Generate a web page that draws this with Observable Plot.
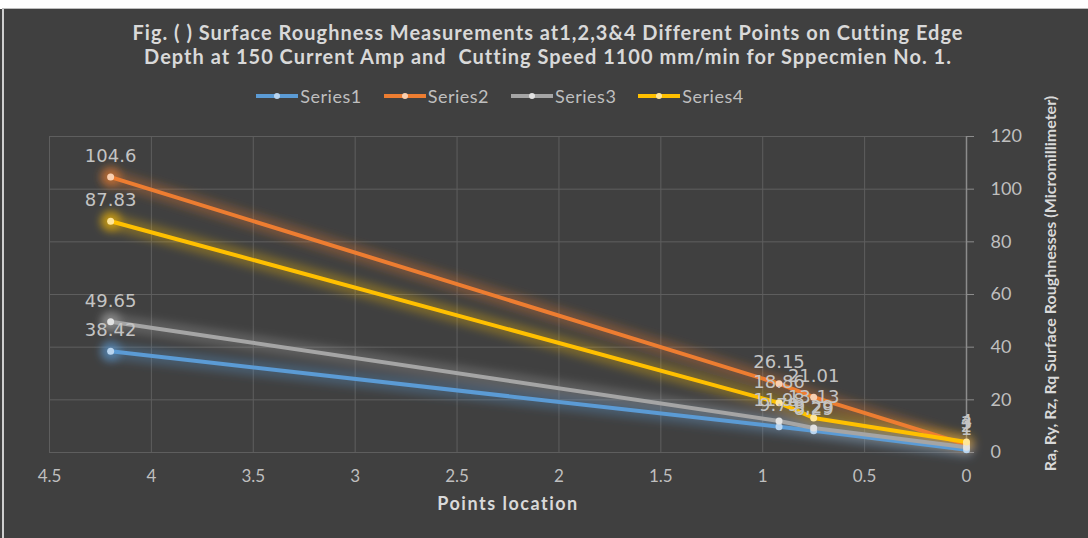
<!DOCTYPE html>
<html>
<head>
<meta charset="utf-8">
<script src="https://cdn.jsdelivr.net/npm/d3@7"></script>
<script src="https://cdn.jsdelivr.net/npm/@observablehq/plot@0.6"></script>
<style>
  html, body { margin: 0; padding: 0; background: #ffffff; }
  #frame { position: absolute; left: 0; top: 9px; width: 1088px; height: 529px; background: #404040; overflow: hidden; }
  #edge { position: absolute; left: 2px; top: 9px; width: 2px; height: 529px; background: #cfcfcf; }
  #topedge { position: absolute; left: 2px; top: 8px; width: 1086px; height: 1px; background: #bdbdbd; }
  #title { position: absolute; left: 0; top: 20px; width: 1096px; text-align: center; color: #d9d9d9;
           font: bold 20px Lato, "Open Sans", sans-serif; letter-spacing: 1px; line-height: 24px; }
  #legend { position: absolute; left: 0; top: 85px; width: 1000px; display: flex; justify-content: center; gap: 22px;
            color: #bfbfbf; font: 18px Lato, "Open Sans", sans-serif; letter-spacing: 0.5px; line-height: 22px; }
  .item { display: flex; align-items: center; gap: 2px; }
  .sw { position: relative; width: 42px; height: 4px; }
  .sw i { position: absolute; left: 18px; top: -1px; width: 6px; height: 6px; border-radius: 3px; }
  #chart { position: absolute; left: 0; top: 110px; }
  #chart svg { overflow: visible; }
</style>
</head>
<body>
<div id="frame"></div>
<div id="edge"></div>
<div id="topedge"></div>
<div id="title">Fig. ( ) Surface Roughness Measurements at1,2,3&amp;4 Different Points on Cutting Edge<br>Depth at 150 Current Amp and&nbsp; Cutting Speed 1100 mm/min for Sppecmien No. 1.</div>
<div id="legend"></div>
<div id="chart"></div>
<script>
const seriesNames = ["Series1", "Series2", "Series3", "Series4"];
const xValues = [4.2, 0.92, 0.75, 0];
const series1 = [38.42, 9.79, 8.29, 1];
const series2 = [104.6, 26.15, 21.01, 3];
const series3 = [49.65, 11.98, 9.29, 2];
const series4 = [87.83, 18.86, 13.13, 4];
const xTicks = [4.5, 4, 3.5, 3, 2.5, 2, 1.5, 1, 0.5, 0];
const yTicks = [0, 20, 40, 60, 80, 100, 120];
const colors = ["#5b9bd5", "#ed7d31", "#a5a5a5", "#ffc000"];
const dotColors = ["#b9d5f0", "#f9cfb0", "#e2e2e2", "#ffe69a"];
const xLabel = "Points location";
const yLabel = "Ra, Ry, Rz, Rq Surface Roughnesses (Micromillimeter)";

const values = [series1, series2, series3, series4];
const data = seriesNames.flatMap((s, i) => xValues.map((x, j) => ({series: s, x, y: values[i][j], label: String(values[i][j])})));

// legend
const legend = document.getElementById("legend");
seriesNames.forEach((s, i) => {
  const it = document.createElement("div");
  it.className = "item";
  it.innerHTML = `<span class="sw" style="background:${colors[i]}"><i style="background:${dotColors[i]}"></i></span><span>${s}</span>`;
  legend.appendChild(it);
});

const svg = Plot.plot({
  width: 1088,
  height: 428,
  marginTop: 26,
  marginBottom: 86,
  marginLeft: 49,
  marginRight: 122,
  style: {background: "transparent", color: "#bfbfbf", fontFamily: "Lato, 'Open Sans', sans-serif", fontSize: "17px", overflow: "visible"},
  x: {domain: [4.5, 0], ticks: xTicks, tickFormat: d => String(d)},
  y: {domain: [0, 120], ticks: yTicks},
  color: {domain: seriesNames, range: colors},
  marks: [
    Plot.gridX(xTicks, {stroke: "#5e5e5e", strokeOpacity: 1}),
    Plot.gridY(yTicks, {stroke: "#5e5e5e", strokeOpacity: 1}),
    Plot.ruleX([0], {stroke: "#8c8c8c", strokeWidth: 1.5}),
    Plot.axisX({ticks: xTicks, tickFormat: d => String(d), tickSize: 0, tickPadding: 17, fill: "#bfbfbf", fontSize: 17, label: null}),
    Plot.axisY({anchor: "right", ticks: yTicks, tickSize: 7, tickPadding: 17, stroke: "#8c8c8c", fill: "#bfbfbf", fontSize: 18, label: null}),
    Plot.line(data, {x: "x", y: "y", z: "series", stroke: "series", strokeWidth: 16, strokeOpacity: 0.3, ariaDescription: "glow"}),
    Plot.dot(data.filter(d => d.x > 4), {x: "x", y: "y", r: 10, fill: "series", fillOpacity: 0.55, stroke: null, ariaDescription: "glow"}),
    Plot.line(data, {x: "x", y: "y", z: "series", stroke: "series", strokeWidth: 4}),
    Plot.dot(data, {x: "x", y: "y", r: 3.5, fill: d => dotColors[seriesNames.indexOf(d.series)], stroke: null}),
    Plot.text(data, {x: "x", y: "y", text: "label", dy: -21, fill: "#c4c4c4", fontSize: 18, fontFamily: "DejaVu Sans, sans-serif"}),
    Plot.text([xLabel], {frameAnchor: "bottom", dy: 57, fill: "#d9d9d9", fontWeight: "bold", fontSize: 18}),
    Plot.text([yLabel], {frameAnchor: "right", textAnchor: "middle", dx: 84, dy: -11, rotate: -90, fill: "#d9d9d9", fontWeight: "bold", fontSize: 16})
  ]
});

const ns = "http://www.w3.org/2000/svg";
const defs = document.createElementNS(ns, "defs");
defs.innerHTML = `<filter id="glow" x="-50%" y="-50%" width="200%" height="200%"><feGaussianBlur stdDeviation="4"/></filter>`;
svg.insertBefore(defs, svg.firstChild);
svg.querySelectorAll('g[aria-description="glow"]').forEach(g => g.setAttribute("filter", "url(#glow)"));
// letter spacing for the x axis title
svg.querySelectorAll("text").forEach(t => { if (t.textContent === xLabel) t.setAttribute("letter-spacing", "1.5"); });

document.getElementById("chart").appendChild(svg);
</script>
</body>
</html>
